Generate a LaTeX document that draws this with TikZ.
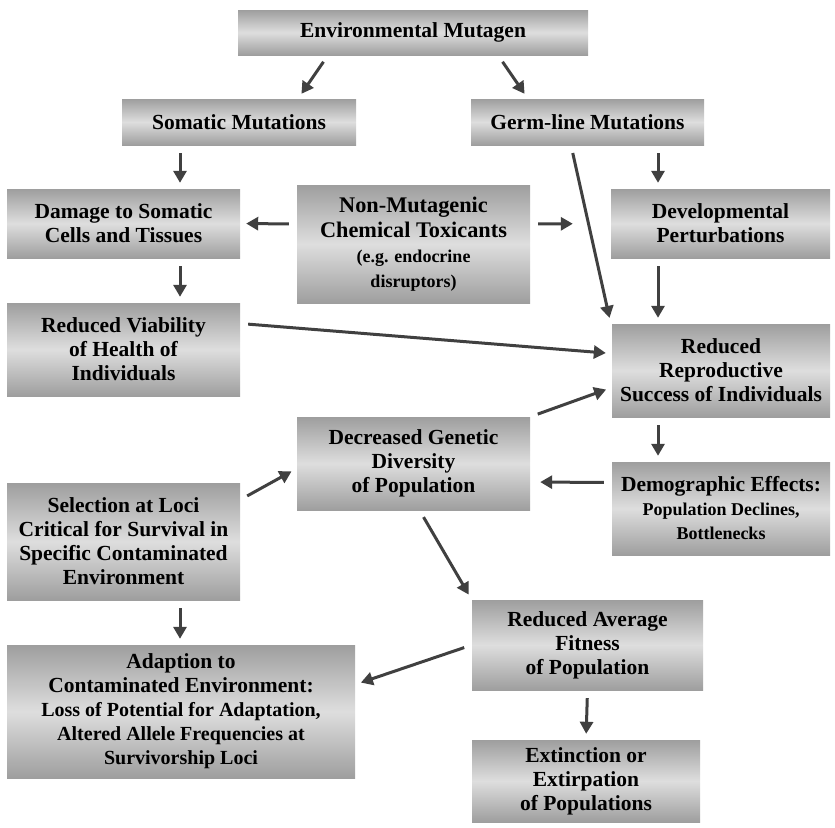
\documentclass[tikz,border=0pt]{standalone}
\usepackage{fontspec}
\setmainfont{Liberation Serif}
\usetikzlibrary{arrows.meta}
\definecolor{arrowgray}{gray}{0.25}
\definecolor{boxedge}{gray}{0.62}
\definecolor{boxmid}{gray}{0.87}
\newcommand{\arrw}{3pt}
\newcommand{\smtext}{\fontsize{18}{23}\selectfont}
\newcommand{\midtext}{\fontsize{20}{24}\selectfont}

\begin{document}
\begin{tikzpicture}[x=1pt,y=-1pt]
    %\draw[help lines] (0,0) grid (835,827);
        \tikzset{BoxStyle/.style = {rectangle, top color=boxedge, bottom color=boxedge, middle color=boxmid,
            align=center, inner sep=2pt, font=\fontsize{21.5}{24}\selectfont\bfseries}}
        \tikzset{ArrowStyle/.style = {draw=arrowgray, line width=\arrw, -{Triangle[length=12pt,width=13pt]},
            shorten <=8pt, shorten >=6pt}}
        \useasboundingbox (0,0) rectangle (835,827);
        \node[BoxStyle, minimum width=350pt, minimum height=45pt] (env) at (413,32.5) {Environmental Mutagen};
        \node[BoxStyle, minimum width=234pt, minimum height=46pt] (som) at (239,122) {Somatic Mutations};
        \node[BoxStyle, minimum width=233pt, minimum height=46pt] (germ) at (587.5,122) {Germ-line Mutations};
        \node[BoxStyle, minimum width=233pt, minimum height=69pt] (dam) at (123.5,223.5) {Damage to Somatic\\Cells and Tissues};
        \node[BoxStyle, minimum width=233pt, minimum height=118pt, font=\fontsize{22.3}{25}\selectfont\bfseries] (nonmut) at (413.5,244) {Non-Mutagenic\\Chemical Toxicants\\\smtext (e.g. endocrine\\\smtext disruptors)};
        \node[BoxStyle, minimum width=219pt, minimum height=69pt] (dev) at (720.5,223.5) {Developmental\\Perturbations};
        \node[BoxStyle, minimum width=233pt, minimum height=93pt] (viab) at (123.5,349.5) {Reduced Viability\\of Health of\\Individuals};
        \node[BoxStyle, minimum width=218pt, minimum height=93pt] (repro) at (721,370.5) {Reduced\\Reproductive\\Success of Individuals};
        \node[BoxStyle, minimum width=233pt, minimum height=93pt] (divers) at (413.5,463.5) {Decreased Genetic\\Diversity\\of Population};
        \node[BoxStyle, minimum width=218pt, minimum height=93pt] (demog) at (721,508.5) {Demographic Effects:\\\smtext Population Declines,\\\smtext Bottlenecks};
        \node[BoxStyle, minimum width=233pt, minimum height=117pt] (select) at (123.5,541.5) {Selection at Loci\\Critical for Survival in\\Specific Contaminated\\Environment};
        \node[BoxStyle, minimum width=231pt, minimum height=90pt] (fitness) at (587.5,645) {Reduced Average\\Fitness\\of Population};
        \node[BoxStyle, minimum width=348pt, minimum height=133pt] (adapt) at (181,711.5) {Adaption to\\Contaminated Environment:\\\midtext Loss of Potential for Adaptation,\\\midtext Altered Allele Frequencies at\\\midtext Survivorship Loci};
        \node[BoxStyle, minimum width=228pt, minimum height=82pt] (extinct) at (586,781) {Extinction or\\Extirpation\\of Populations};

        \draw[ArrowStyle] ([xshift=-85pt]env.south) -- ([xshift=59pt]som.north);
        \draw[ArrowStyle] ([xshift=85pt]env.south) -- ([xshift=-59.5pt]germ.north);
        \draw[ArrowStyle] ([xshift=-59pt]som.south) -- ([xshift=56.5pt]dam.north);
        \draw[ArrowStyle] ([xshift=70.5pt]germ.south) -- ([xshift=-62.5pt]dev.north);
        \draw[ArrowStyle] ([xshift=-16.5pt]germ.south) -- ([xshift=-1pt]repro.north west);
        \draw[ArrowStyle] ([yshift=20pt]nonmut.west) -- (dam.east);
        \draw[ArrowStyle, shorten >=38pt] ([yshift=20pt]nonmut.east) -- (dev.west);
        \draw[ArrowStyle] ([xshift=-62.5pt]dev.south) -- ([xshift=-63pt]repro.north);
        \draw[ArrowStyle] ([xshift=56.5pt]dam.south) -- ([xshift=56.5pt]viab.north);
        \draw[ArrowStyle] ([yshift=26pt]viab.east) -- ([yshift=17pt]repro.west);
        \draw[ArrowStyle] (divers.north east) -- ([yshift=-17pt]repro.west);
        \draw[ArrowStyle] ([xshift=-63pt]repro.south) -- ([xshift=-63pt]demog.north);
        \draw[ArrowStyle, shorten >=10pt] ([yshift=26pt]demog.west) -- ([yshift=-18.5pt]divers.east);
        \draw[ArrowStyle] ([yshift=-17pt]select.north east) -- ([yshift=-5pt]divers.west);
        \draw[ArrowStyle] ([xshift=6pt]divers.south) -- (fitness.north west);
        \draw[ArrowStyle] ([xshift=56.5pt]select.south) -- ([xshift=-1pt]adapt.north);
        \draw[ArrowStyle] (fitness.west) -- ([yshift=27pt]adapt.east);
        \draw[ArrowStyle] (fitness.south) -- (extinct.north);
\end{tikzpicture}
\end{document}
